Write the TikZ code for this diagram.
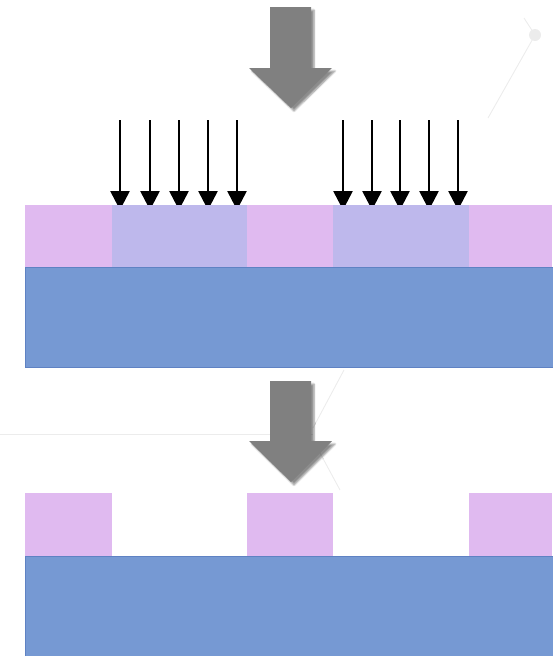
\documentclass[tikz,border=0pt]{standalone}
\usetikzlibrary{arrows.meta,shadows.blur}
\definecolor{resist}{RGB}{224,186,240}
\definecolor{exposed}{RGB}{190,184,236}
\definecolor{substrate}{RGB}{118,153,211}
\definecolor{subedge}{RGB}{95,130,195}
\definecolor{stepgray}{RGB}{128,128,128}
\definecolor{faint}{RGB}{236,236,236}
\tikzset{
  resistblock/.style={fill=resist, draw=none},
  exposedblock/.style={fill=exposed, draw=none},
  substrateblock/.style={fill=substrate, draw=subedge, line width=0.8pt},
  uvray/.style={draw=black, line width=2.6pt, -{Triangle[length=19pt,width=19pt]}},
  processarrow/.style={fill=stepgray, draw=none,
    blur shadow={shadow xshift=3pt, shadow yshift=-3pt, shadow blur steps=6, shadow opacity=45}},
  backdrop/.style={draw=faint, line width=0.9pt}
}
\begin{document}
\begin{tikzpicture}[x=1pt,y=-1pt]
\useasboundingbox (0,0) rectangle (552,656);

% faint background decoration
\draw[backdrop] (524,18) -- (535,35) -- (488,118);
\fill[faint] (535,35) circle (6);
\draw[backdrop] (0,434) -- (313,434);
\draw[backdrop] (344,370) -- (313,428);
\draw[backdrop] (313,440) -- (340,490);

% process step arrow (top)
\path[processarrow] (270,7) -- (311,7) -- (311,68) -- (332,68) -- (291,108)
  -- (249,68) -- (270,68) -- cycle;

% exposure rays
\foreach \x [count=\i] in {120,150,179,208,237,343,372,400,429,458}{
  \coordinate (ray\i a) at (\x,120);
  \coordinate (ray\i b) at (\x,210);
  \draw[uvray] (ray\i a) -- (ray\i b);
}

% exposed wafer: resist layer with exposed regions on the substrate
\fill[resistblock] (25,205) rectangle (112,267);
\fill[exposedblock] (112,205) rectangle (247,267);
\fill[resistblock] (247,205) rectangle (333,267);
\fill[exposedblock] (333,205) rectangle (469,267);
\fill[resistblock] (469,205) rectangle (552,267);
\draw[substrateblock] (25,267) rectangle (553,367);

% process step arrow (bottom)
\path[processarrow] (270,381) -- (311,381) -- (311,441) -- (332,441) -- (291,482)
  -- (249,441) -- (270,441) -- cycle;

% developed wafer: resist remains outside the exposed regions
\fill[resistblock] (25,493) rectangle (112,556);
\fill[resistblock] (247,493) rectangle (333,556);
\fill[resistblock] (469,493) rectangle (552,556);
\draw[substrateblock] (25,556) rectangle (553,656);
\end{tikzpicture}
\end{document}
